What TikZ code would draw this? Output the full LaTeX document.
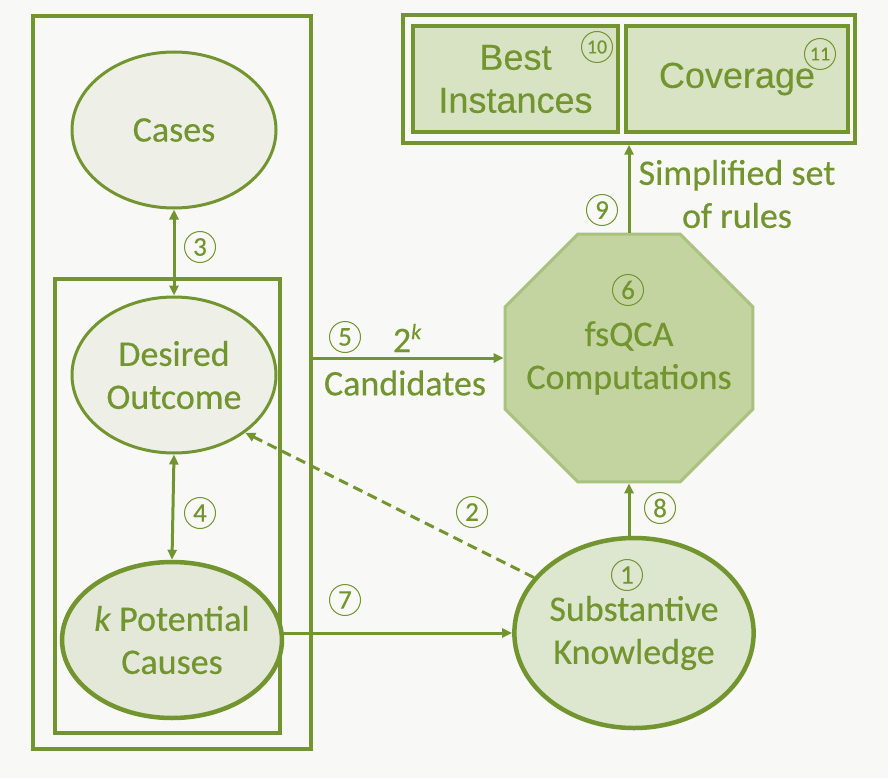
\documentclass[tikz,border=0pt]{standalone}
\usepackage{fontspec}
\setmainfont{Carlito}[FakeBold=0.4]
\newfontfamily\arialfont{Liberation Sans}[FakeBold=0.3]
\usetikzlibrary{shapes.geometric,arrows.meta}

\definecolor{leaf}{HTML}{72952F}
\definecolor{bgpaper}{HTML}{F8F8F6}
\definecolor{octfill}{HTML}{C3D4A0}
\definecolor{octline}{HTML}{A9C27F}
\definecolor{boxfill}{HTML}{D7E3C3}
\definecolor{skfill}{HTML}{DDE6CF}
\definecolor{kfill}{HTML}{E3E8D8}
\definecolor{palefill}{HTML}{EEF0E8}

\tikzset{
  bigtext/.style={font=\fontsize{36}{43}\selectfont, text=leaf, align=center},
  frame/.style={draw=leaf, line width=3.5pt, rectangle, inner sep=0pt},
  oval/.style={ellipse, draw=leaf, line width=3pt, inner sep=0pt, bigtext},
  conn/.style={draw=leaf, line width=3pt,
    -{Triangle[length=10pt,width=9pt]}},
  biconn/.style={draw=leaf, line width=3pt,
    {Triangle[length=10pt,width=9pt]}-{Triangle[length=10pt,width=9pt]}},
  num/.style={circle, draw=leaf, line width=1pt, minimum size=31pt,
    inner sep=0pt, text=leaf, font=\fontsize{27}{27}\selectfont},
  numtwo/.style={num, font=\fontsize{20}{20}\selectfont},
}

\begin{document}
\begin{tikzpicture}[x=1pt,y=-1pt]
  % paper
  \fill[bgpaper] (0,0) rectangle (888,778);
  \useasboundingbox (0,0) rectangle (888,778);

  % left grouping frames
  \node[frame, minimum width=278pt, minimum height=733pt] (outer) at (172,382.5) {};
  \node[frame, minimum width=225pt, minimum height=454pt] (inner) at (167.5,506) {};

  % ellipses in the left column
  \node[oval, fill=palefill, minimum width=204pt, minimum height=156pt] (cases) at (174,130) {Cases};
  \node[oval, fill=palefill, minimum width=204pt, minimum height=156pt] (desired) at (174,375) {Desired\\Outcome};
  \node[oval, fill=kfill, line width=4.5pt, minimum width=206pt, minimum height=156pt] (kpc) at (172,640) {\textit{k} Potential\\Causes};

  % fsQCA octagon and its text
  \node[regular polygon, regular polygon sides=8, minimum size=268pt, inner sep=0pt,
        fill=octfill, draw=octline, line width=3pt] (fsqca) at (629,358) {};
  \node[bigtext, inner sep=0pt] (fsqcatext) at (fsqca.center) {fsQCA\\Computations};

  % substantive knowledge
  \node[oval, fill=skfill, line width=4.5pt, minimum width=224pt, minimum height=190pt] (sk) at (634,633) {Substantive\\Knowledge};

  % results frame
  \node[frame, minimum width=452pt, minimum height=128pt] (results) at (629,79) {};
  \node[frame, fill=boxfill, minimum width=205pt, minimum height=106pt,
        bigtext, font=\arialfont\fontsize{36}{43}\selectfont] (best) at (515.5,79) {Best\\Instances};
  \node[frame, fill=boxfill, minimum width=222pt, minimum height=106pt,
        bigtext, font=\arialfont\fontsize{36}{43}\selectfont] (cov) at (737,79) {Coverage};

  % connectors
  \draw[biconn] (cases.south) -- (desired.north);
  \draw[biconn] (desired.south) -- (kpc.north);
  \draw[conn] (outer.east |- fsqca.west) -- (fsqca.west);
  \draw[conn] (inner.east |- sk.west) -- (sk.west);
  \draw[conn] (sk.north -| fsqca.south) -- (fsqca.south);
  \draw[conn] (fsqca.north) -- (fsqca.north |- results.south);
  \draw[conn, dash pattern=on 10pt off 6pt] (sk.151) -- (desired.-39);

  % edge texts
  \node[bigtext, inner sep=0pt] (twok) at (407,338) {2\raisebox{13pt}{\fontsize{22}{22}\selectfont\itshape k}};
  \node[bigtext, inner sep=0pt] (cand) at (405,383) {Candidates};
  \node[bigtext, inner sep=0pt] (rules) at (737,194) {Simplified set\\of rules};

  % step numbers
  \node[num] (n1) at (627,575) {1};
  \node[num] (n2) at (472,512) {2};
  \node[num] (n3) at (200,247) {3};
  \node[num] (n4) at (200,513) {4};
  \node[num] (n5) at (345,337) {5};
  \node[num] (n6) at (628,290) {6};
  \node[num] (n7) at (345,600) {7};
  \node[num] (n8) at (660,508) {8};
  \node[num] (n9) at (602,210) {9};
  \node[numtwo] (n10) at (597,47) {10};
  \node[numtwo] (n11) at (820,54) {11};
\end{tikzpicture}
\end{document}
